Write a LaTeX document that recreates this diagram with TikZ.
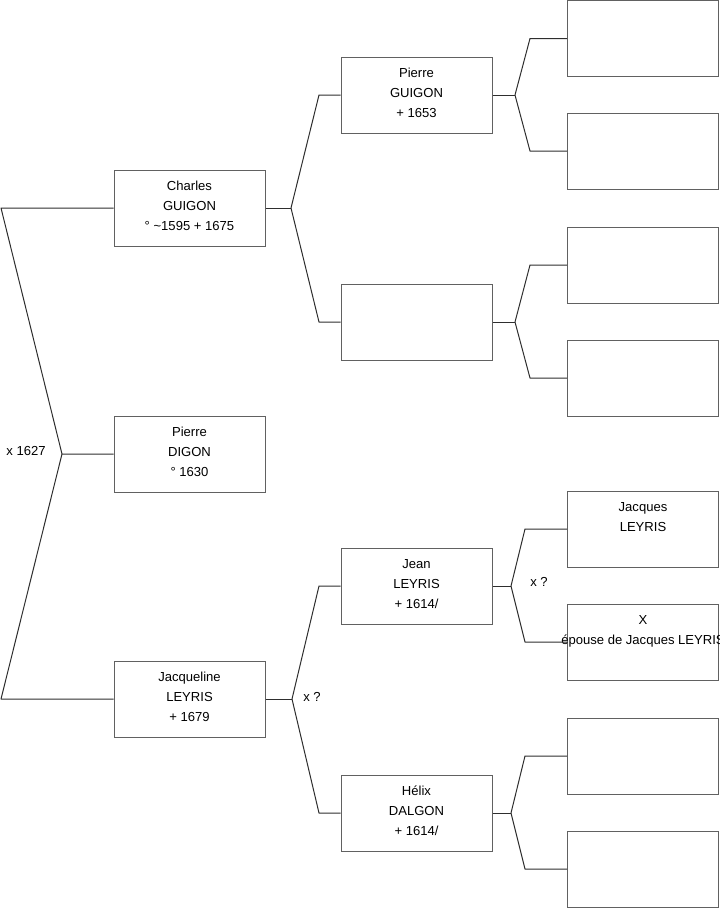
\documentclass[tikz,border=0pt]{standalone}
\usepackage{fontspec}
\setmainfont{Liberation Sans}
\definecolor{boxgray}{gray}{0.38}
\definecolor{linegray}{gray}{0.18}

\begin{document}
\begin{tikzpicture}[x=0.75pt,y=-0.75pt,
    box/.style={draw=boxgray,line width=0.75pt,minimum width=113.25pt,minimum height=57pt,inner sep=0pt,align=center,text depth=3pt,font=\fontsize{9.8}{15}\selectfont},
    link/.style={draw=linegray,line width=0.75pt,line join=round},
    note/.style={font=\fontsize{9.8}{11}\selectfont,inner sep=0pt}]
  \useasboundingbox (0,0) rectangle (719,908);
  % generation 1
  \node[box] (charles) at (189.5,208) {Charles\\GUIGON\\° \textasciitilde1595 + 1675};
  \node[box] (digon) at (189.5,454) {Pierre\\DIGON\\° 1630};
  \node[box] (jacqueline) at (189.5,699) {Jacqueline\\LEYRIS\\+ 1679};
  % generation 2
  \node[box] (pguigon) at (416.5,95) {Pierre\\GUIGON\\+ 1653};
  \node[box] (mguigon) at (416.5,322) {};
  \node[box] (jean) at (416.5,586) {Jean\\LEYRIS\\+ 1614/};
  \node[box] (helix) at (416.5,813) {Hélix\\DALGON\\+ 1614/};
  % generation 3
  \node[box] (g1) at (643,38.5) {};
  \node[box] (g2) at (643,151) {};
  \node[box] (g3) at (643,265) {};
  \node[box] (g4) at (643,378) {};
  \node[box] (jacques) at (643,529) {Jacques\\LEYRIS\\~};
  \node[box] (epouse) at (643,642) {X\\\makebox[0pt][c]{épouse de Jacques LEYRIS}\\~};
  \node[box] (g7) at (643,756) {};
  \node[box] (g8) at (643,869) {};
  % forks
  \coordinate (rootup) at (1,208);
  \coordinate (rootmid) at (62,454);
  \coordinate (rootdown) at (1,699);
  \coordinate (cfork) at (291,208);
  \coordinate (jfork) at (292,699);
  \coordinate (pfork) at (515,95);
  \coordinate (mfork) at (515,322);
  \coordinate (jnfork) at (511,586);
  \coordinate (hfork) at (511,813);
  \draw[link] (charles.west) -- (rootup) -- (rootmid) -- (digon.west);
  \draw[link] (rootmid) -- (rootdown) -- (jacqueline.west);
  \draw[link] (charles.east) -- (cfork);
  \draw[link] (cfork) -- (319,95) -- (pguigon.west);
  \draw[link] (cfork) -- (319,322) -- (mguigon.west);
  \draw[link] (jacqueline.east) -- (jfork);
  \draw[link] (jfork) -- (319,586) -- (jean.west);
  \draw[link] (jfork) -- (319,813) -- (helix.west);
  \draw[link] (pguigon.east) -- (pfork);
  \draw[link] (pfork) -- (530,38.5) -- (g1.west);
  \draw[link] (pfork) -- (530,151) -- (g2.west);
  \draw[link] (mguigon.east) -- (mfork);
  \draw[link] (mfork) -- (530,265) -- (g3.west);
  \draw[link] (mfork) -- (530,378) -- (g4.west);
  \draw[link] (jean.east) -- (jnfork);
  \draw[link] (jnfork) -- (525,529) -- (jacques.west);
  \draw[link] (jnfork) -- (525,642) -- (epouse.west);
  \draw[link] (helix.east) -- (hfork);
  \draw[link] (hfork) -- (525,756) -- (g7.west);
  \draw[link] (hfork) -- (525,869) -- (g8.west);
  % marriage notes
  \node[note] (m1627) at (26,451) {x 1627};
  \node[note] (mjacq) at (312,697) {x ?};
  \node[note] (mjean) at (539,582) {x ?};
\end{tikzpicture}
\end{document}
